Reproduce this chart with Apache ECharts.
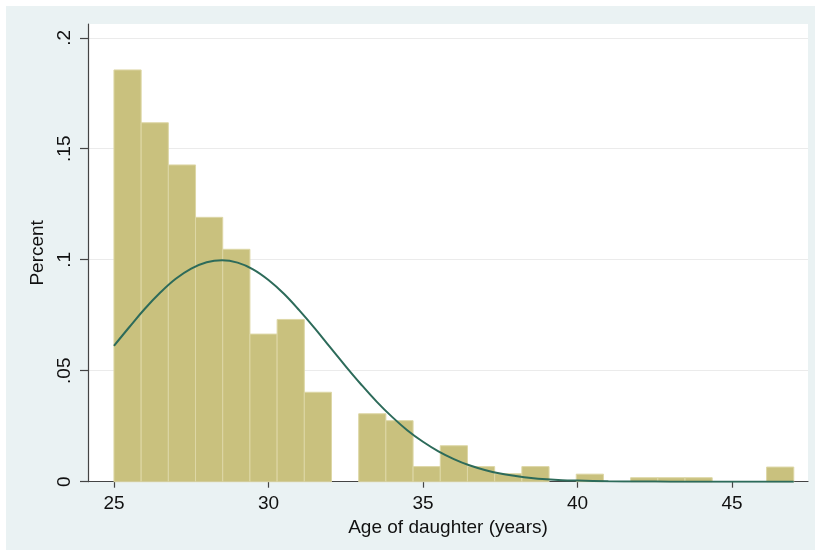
<!DOCTYPE html>
<html>
<head>
<meta charset="utf-8">
<script src="https://cdn.jsdelivr.net/npm/echarts@6/dist/echarts.min.js"></script>
<style>
  html, body { margin: 0; padding: 0; background: #ffffff; }
  #frame { position: absolute; left: 6px; top: 6px; width: 809px; height: 544px; background: #eaf2f3; }
  #chart { position: absolute; left: 0; top: 0; width: 815px; height: 550px; }
</style>
</head>
<body>
<div id="frame"></div>
<div id="chart"></div>
<script>
// Histogram bins (25 bins from 25 to 47, width 0.88)
const binStarts = [25, 25.88, 26.76, 27.64, 28.52, 29.4, 30.28, 31.16, 32.04, 32.92,
                   33.8, 34.68, 35.56, 36.44, 37.32, 38.2, 39.08, 39.96, 40.84, 41.72,
                   42.6, 43.48, 44.36, 45.24, 46.12];
const binWidth = 0.88;
const fractions = [0.1855, 0.1617, 0.1427, 0.1191, 0.1047, 0.0665, 0.0731, 0.0403, 0, 0.0306,
                   0.0275, 0.0068, 0.0162, 0.0068, 0.0036, 0.0068, 0, 0.0034, 0, 0.0018,
                   0.0018, 0.0018, 0, 0, 0.0066];

// Normal density overlay
const curveX = [25, 25.5, 26, 26.5, 27, 27.5, 28, 28.5, 29, 29.5, 30, 30.5, 31, 31.5, 32, 32.5,
                33, 33.5, 34, 34.5, 35, 35.5, 36, 36.5, 37, 37.5, 38, 38.5, 39, 39.5, 40, 41, 42, 43, 44, 45, 46, 47];
const curveY = [0.0612, 0.0697, 0.0779, 0.0852, 0.0914, 0.0960, 0.0989, 0.0998, 0.0987, 0.0957,
                0.0909, 0.0847, 0.0772, 0.0691, 0.0605, 0.0520, 0.0438, 0.0361, 0.0292, 0.0231,
                0.0180, 0.0137, 0.0102, 0.0074, 0.0053, 0.0037, 0.0026, 0.0017, 0.0011, 0.0007,
                0.0005, 0.0002, 0.0001, 0, 0, 0, 0, 0];

const xTicks = [25, 30, 35, 40, 45];
const yTicks = [0, 0.05, 0.1, 0.15, 0.2];
const yTickLabels = ['0', '.05', '.1', '.15', '.2'];

const chart = echarts.init(document.getElementById('chart'), null, { renderer: 'canvas' });
const font = '"Liberation Sans", Arial, sans-serif';

chart.setOption({
  backgroundColor: 'transparent',
  animation: false,
  grid: {
    left: 88, right: 7, top: 24, bottom: 68.3,
    show: true, backgroundColor: '#ffffff', borderWidth: 0
  },
  xAxis: {
    type: 'value',
    min: 24.16, max: 47.46,
    name: 'Age of daughter (years)',
    nameLocation: 'middle',
    nameGap: 32,
    nameTextStyle: { fontFamily: font, fontSize: 19, color: '#111' },
    axisLine: { show: true, onZero: false, lineStyle: { color: '#444', width: 1.2 } },
    axisTick: { show: true, length: 6, inside: false, lineStyle: { color: '#444', width: 1.2 }, customValues: xTicks },
    axisLabel: { fontFamily: font, fontSize: 19, color: '#111', margin: 13, customValues: xTicks },
    splitLine: { show: false }
  },
  yAxis: {
    type: 'value',
    min: 0, max: 0.2062,
    name: 'Percent',
    nameLocation: 'middle',
    nameGap: 40,
    nameRotate: 90,
    nameTextStyle: { fontFamily: font, fontSize: 19, color: '#111' },
    axisLine: { show: true, lineStyle: { color: '#444', width: 1.2 } },
    axisTick: { show: true, length: 8, lineStyle: { color: '#444', width: 1.2 }, customValues: yTicks },
    axisLabel: {
      fontFamily: font, fontSize: 19, color: '#111', rotate: 90, margin: 14,
      customValues: yTicks,
      formatter: function (v) {
        for (let i = 0; i < yTicks.length; i++) {
          if (Math.abs(v - yTicks[i]) < 1e-9) return yTickLabels[i];
        }
        return '';
      }
    },
    splitLine: { show: true, lineStyle: { color: '#ebebeb', width: 1.2 } }
  },
  series: [
    {
      type: 'custom',
      data: binStarts.map((s, i) => [s, s + binWidth, fractions[i]]),
      encode: { x: [0, 1], y: 2 },
      renderItem: function (params, api) {
        const x0 = api.value(0), x1 = api.value(1), v = api.value(2);
        if (!(v > 0)) return null;
        const p0 = api.coord([x0, v]);
        const p1 = api.coord([x1, 0]);
        return {
          type: 'rect',
          shape: { x: p0[0], y: p0[1], width: p1[0] - p0[0], height: p1[1] - p0[1] },
          style: { fill: '#c9c17e', stroke: '#ddd7a6', lineWidth: 1 }
        };
      },
      z: 2
    },
    {
      type: 'line',
      data: curveX.map((x, i) => [x, curveY[i]]),
      showSymbol: false,
      smooth: 0.4,
      lineStyle: { color: '#2d6b5a', width: 2 },
      z: 3
    }
  ]
});
</script>
</body>
</html>
